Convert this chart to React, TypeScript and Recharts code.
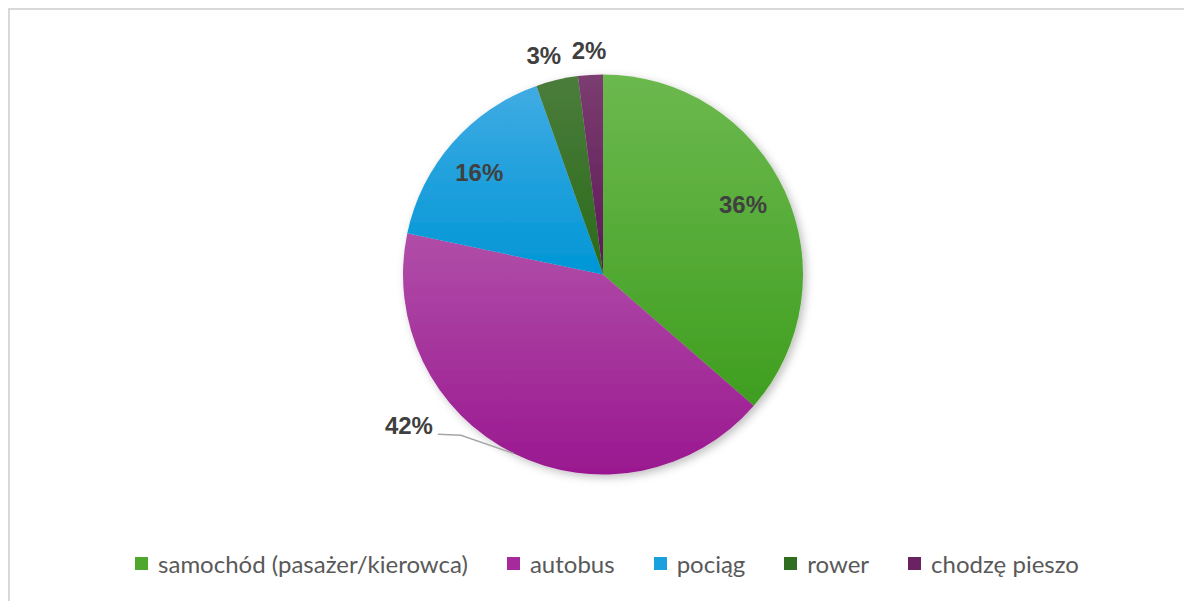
import React from "react";
import { Cell, Pie, PieChart } from "recharts";

const categories = ["samochód (pasażer/kierowca)", "autobus", "pociąg", "rower", "chodzę pieszo"];
const shares = [36.4, 41.9, 16.3, 3.4, 2.0];
const topColors = ["#6cb94f", "#b04ea8", "#40abe3", "#4b7d3b", "#7b3d70"];
const bottomColors = ["#3f9e1f", "#9a1890", "#0096d6", "#2a6a1a", "#5e1858"];
const legendColors = ["#4ea82e", "#a62a9b", "#1aa0dc", "#2f6e20", "#6a2262"];

// label placement per slice: radius factor, angle shift (deg), outside?
const labelPlacement = [
  { r: 0.777, shift: 1.2, outside: false },
  { r: 1.145, shift: -21.5, outside: true },
  { r: 0.795, shift: 2.3, outside: false },
  { r: 1.12, shift: 2, outside: false },
  { r: 1.11, shift: 0, outside: false },
];

const data = categories.map((name, i) => ({ name, value: shares[i] }));
const RAD = Math.PI / 180;

function renderLabel(props: any) {
  const { cx, cy, midAngle, outerRadius, percent, index } = props;
  const p = labelPlacement[index];
  const a = (midAngle + p.shift) * RAD;
  const x = cx + outerRadius * p.r * Math.cos(-a);
  const y = cy + outerRadius * p.r * Math.sin(-a) - 2.5;
  const text = `${Math.round(percent * 100)}%`;
  if (p.outside) {
    const ax = cx + outerRadius * Math.cos(-midAngle * RAD);
    const ay = cy + outerRadius * Math.sin(-midAngle * RAD);
    return (
      <g>
        <polyline
          points={`${x + 5},${y + 9} ${x + 28},${y + 10} ${ax},${ay}`}
          fill="none"
          stroke="#a6a6a6"
          strokeWidth={1.5}
        />
        <text x={x} y={y} textAnchor="end" dominantBaseline="central" fill="#404040"
          fontFamily="'Liberation Sans', Arial, sans-serif" fontWeight="bold" fontSize={24}>
          {text}
        </text>
      </g>
    );
  }
  return (
    <text x={x} y={y} textAnchor="middle" dominantBaseline="central" fill="#404040"
      fontFamily="'Liberation Sans', Arial, sans-serif" fontWeight="bold" fontSize={24}>
      {text}
    </text>
  );
}

export default function App() {
  return (
    <div style={{ position: "relative", width: 1184, height: 593, overflow: "hidden", background: "#fff" }}>
      <style>{`.recharts-pie { filter: url(#pieShadow); }`}</style>
      <div
        style={{
          position: "absolute", left: 0, top: 0, right: -20, bottom: -20,
          borderTop: "2px solid #d9d9d9", borderLeft: "2px solid #d9d9d9",
        }}
      />
      <div style={{ position: "absolute", left: 0, top: 0 }}>
        <PieChart width={1184} height={593}>
          <defs>
            {topColors.map((c, i) => (
              <linearGradient key={i} id={`grad${i}`} x1="0" y1="0" x2="0" y2="1">
                <stop offset="0%" stopColor={c} />
                <stop offset="100%" stopColor={bottomColors[i]} />
              </linearGradient>
            ))}
            <filter id="pieShadow" x="-20%" y="-20%" width="140%" height="140%">
              <feDropShadow dx="3" dy="3" stdDeviation="4" floodColor="#000" floodOpacity="0.25" />
            </filter>
          </defs>
          <Pie
            data={data}
            dataKey="value"
            nameKey="name"
            cx={590}
            cy={261.5}
            outerRadius={200}
            startAngle={90}
            endAngle={-270}
            stroke="none"
            label={renderLabel}
            labelLine={false}
            isAnimationActive={false}
          >
            {data.map((_, i) => (
              <Cell key={i} fill={`url(#grad${i})`} />
            ))}
          </Pie>
        </PieChart>
      </div>
      <div
        style={{
          position: "absolute", left: 7, width: 1184, top: 541, height: 28,
          display: "flex", justifyContent: "center", alignItems: "center",
          fontFamily: "Lato, 'Open Sans', sans-serif", fontSize: 24, color: "#595959",
        }}
      >
        {categories.map((c, i) => (
          <div key={c} style={{ display: "flex", alignItems: "center", marginRight: i < categories.length - 1 ? 39 : 0 }}>
            <span style={{ width: 13, height: 13, background: legendColors[i], display: "inline-block", marginRight: 10 }} />
            <span>{c}</span>
          </div>
        ))}
      </div>
    </div>
  );
}
